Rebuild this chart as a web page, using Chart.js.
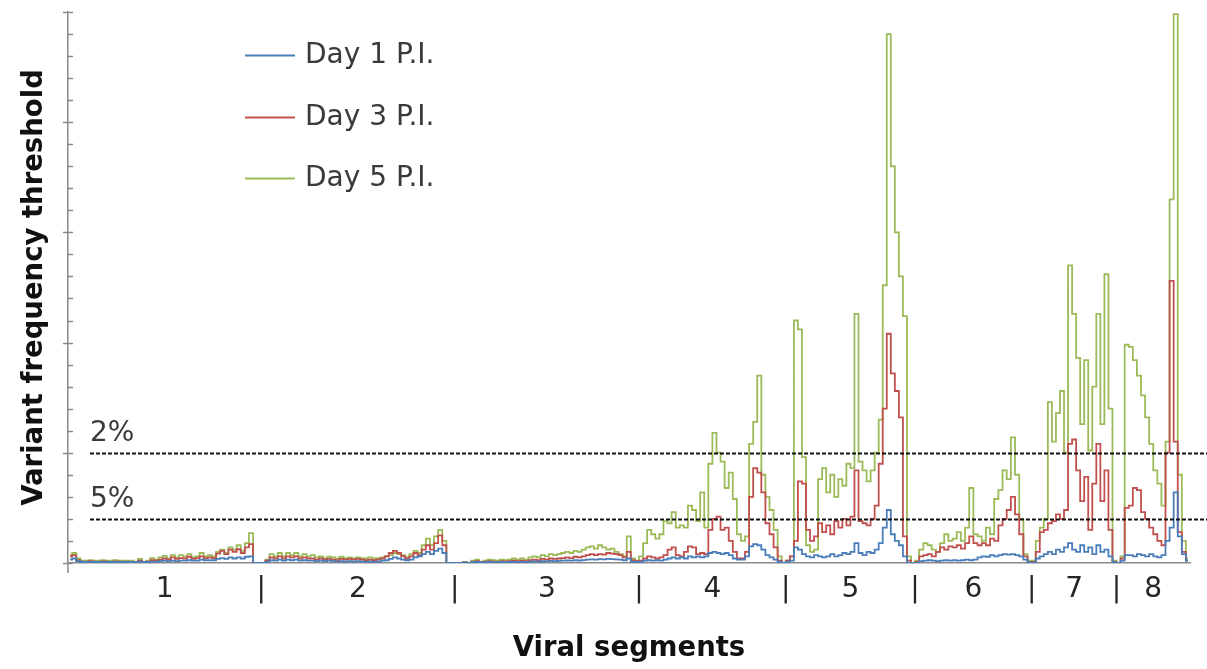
<!DOCTYPE html>
<html>
<head>
<meta charset="utf-8">
<title>Variant frequency threshold by viral segment</title>
<script src="https://cdn.jsdelivr.net/npm/chart.js@4.4.1/dist/chart.umd.min.js"></script>
<style>
  html, body { margin: 0; padding: 0; background: #ffffff; }
  #wrap { width: 1207px; height: 669px; position: relative; }
</style>
</head>
<body>
<div id="wrap"><canvas id="chart" width="1207" height="669"></canvas></div>
<script>
// Influenza segments 1-8 and their lengths (nt); the x axis runs along the concatenated genome.
const segmentLabels = ['1', '2', '3', '4', '5', '6', '7', '8'];
const segmentLengths = [2341, 2341, 2233, 1778, 1565, 1413, 1027, 890];

const seriesLabels = ['Day 1 P.I.', 'Day 3 P.I.', 'Day 5 P.I.'];
const seriesColors = ['#4a7ebb', '#c0504d', '#9bbb59'];

// Reference thresholds drawn as dashed lines
const thresholdLevels = [5, 2];
const thresholdLabels = ['2%', '5%'];

// Windowed values along each segment (one inner list per segment, evenly spaced windows)
const day1 = [
  [.15,.2,.08,.04,.04,.05,.04,.04,.05,.04,.04,.05,.04,.04,.04,.04,.03,.06,.03,.04,.06,.05,.08,.1,.08,.1,.08,.1,.1,.12,.1,.1,.15,.12,.12,.12,.18,.22,.18,.25,.2,.25,.2,.28,.3,0,0],
  [0,.05,.12,.1,.15,.1,.15,.12,.15,.1,.12,.1,.1,.08,.1,.08,.1,.08,.06,.08,.06,.08,.06,.08,.06,.05,.06,.05,.06,.1,.12,.18,.25,.2,.15,.12,.15,.25,.3,.4,.5,.4,.55,.65,.45,0,0],
  [0,0,.01,0,.03,.04,.02,.03,.04,.03,.03,.04,.03,.04,.05,.04,.05,.04,.06,.07,.06,.08,.07,.09,.08,.09,.1,.11,.1,.12,.11,.13,.15,.16,.15,.17,.16,.18,.17,.16,.15,.12,.2,.06,.04],
  [.05,.1,.12,.1,.12,.1,.15,.2,.25,.2,.25,.2,.3,.25,.3,.25,.3,.45,.5,.45,.4,.45,.35,.2,.15,.15,.3,.75,.85,.8,.6,.35,.25,.15,.05,0],
  [.05,.1,.7,.6,.4,.3,.25,.35,.3,.25,.3,.4,.3,.35,.45,.4,.5,.9,.45,.35,.5,.45,.6,.9,1.6,2.4,1.3,1.0,.8,.3,0,0],
  [0,.08,.1,.12,.1,.08,.1,.12,.1,.12,.1,.12,.15,.12,.15,.25,.3,.28,.35,.3,.35,.4,.38,.4,.35,.3,.15,.02],
  [0,.2,.3,.4,.5,.4,.6,.5,.7,.9,.6,.5,.8,.5,.7,.4,.8,.5,.6,.3,.02],
  [0,.1,.35,.35,.3,.4,.35,.3,.4,.3,.25,.35,1.0,1.6,3.2,1.2,.4,.1]
];

const day3 = [
  [.3,.35,.12,.06,.06,.08,.06,.05,.07,.06,.05,.07,.06,.05,.06,.05,.04,.1,.04,.06,.12,.1,.15,.2,.15,.25,.18,.22,.2,.28,.18,.22,.3,.22,.25,.22,.42,.55,.4,.6,.5,.62,.45,.7,.85,0,0],
  [0,.1,.25,.2,.3,.2,.3,.25,.3,.2,.25,.2,.2,.15,.2,.15,.18,.15,.12,.18,.15,.18,.15,.18,.15,.12,.15,.12,.15,.2,.3,.45,.55,.45,.3,.2,.3,.45,.35,.6,.8,.6,.9,1.25,.8,0,0],
  [0,0,.02,0,.05,.08,.03,.05,.08,.06,.05,.08,.06,.08,.1,.08,.1,.08,.12,.15,.12,.18,.15,.2,.18,.2,.22,.25,.22,.28,.25,.3,.35,.4,.35,.4,.38,.45,.42,.4,.35,.25,.5,.12,.08],
  [.1,.2,.3,.25,.2,.25,.35,.6,.7,.35,.3,.5,.75,.7,.4,.45,.4,1.5,2.0,2.1,1.5,1.6,1.0,.5,.2,.2,.5,3.0,4.3,4.1,3.2,1.8,1.3,.7,.1,0],
  [.1,.3,1.0,3.7,3.6,1.5,1.0,1.2,1.8,1.4,1.7,1.3,1.9,1.6,2.0,1.7,2.1,4.2,1.9,1.8,1.7,2.0,2.6,4.5,7.0,10.4,8.6,7.8,6.6,1.2,.1,0],
  [.05,.3,.35,.4,.3,.5,.7,.6,.75,.7,.8,.65,.9,1.2,.9,.8,.9,.8,1.1,1.0,1.7,2.0,2.4,3.0,2.2,1.3,.3,.05],
  [.05,.5,1.4,1.5,1.8,1.9,2.2,2.0,2.4,5.4,5.6,4.2,2.8,3.9,1.5,3.6,5.4,2.8,4.2,1.5,.05],
  [0,.2,2.5,2.6,3.4,3.3,2.3,2.0,1.6,1.3,1.0,.8,5.0,12.8,5.5,1.4,.5,.1]
];

const day5 = [
  [.35,.45,.2,.1,.1,.12,.1,.1,.12,.1,.1,.12,.1,.1,.1,.1,.05,.18,.05,.1,.22,.15,.25,.32,.2,.35,.25,.35,.3,.4,.25,.3,.45,.3,.35,.3,.5,.6,.45,.7,.6,.8,.55,.9,1.35,0,0],
  [0,.15,.4,.3,.45,.3,.45,.35,.45,.3,.4,.3,.35,.25,.3,.22,.28,.25,.2,.28,.22,.25,.2,.25,.22,.2,.25,.2,.22,.25,.3,.35,.45,.4,.35,.25,.4,.55,.45,.8,1.1,.8,1.2,1.5,1.0,0,0],
  [0,0,.05,0,.1,.15,.05,.1,.15,.12,.1,.15,.12,.15,.2,.15,.2,.15,.25,.3,.25,.35,.3,.4,.35,.4,.45,.5,.45,.55,.5,.6,.7,.75,.65,.8,.7,.6,.65,.5,.4,.3,1.2,.2,.1],
  [.3,.9,1.5,1.3,1.1,1.3,1.9,1.8,2.3,1.6,1.7,1.6,2.6,2.4,1.9,3.2,1.6,4.5,5.9,5.0,4.6,3.4,4.1,2.9,1.3,1.0,1.2,5.4,6.4,8.5,4.0,3.0,2.4,1.5,.3,0],
  [.1,.3,11.0,10.6,4.8,.8,.5,.6,3.8,4.3,3.2,4.0,3.0,3.8,3.5,4.5,4.3,11.3,4.6,4.2,3.7,4.2,5.0,6.5,12.6,24.0,18.0,15.0,13.0,11.2,.3,0],
  [.1,.6,.9,.8,.6,.5,.9,1.3,1.0,1.1,1.4,1.0,1.6,3.4,1.3,1.2,1.0,1.6,1.3,2.9,3.3,4.2,3.8,5.7,4.0,2.0,.4,.1],
  [.1,1.0,1.6,2.0,7.3,5.5,6.8,7.8,5.0,13.5,11.3,9.3,6.3,9.2,5.1,8.0,11.3,6.3,13.1,7.0,.1],
  [0,.3,9.9,9.8,9.2,8.5,7.6,6.6,5.4,4.2,3.6,2.6,5.5,16.5,24.9,4.0,1.0,.2]
];

// Segment start positions along the concatenated genome
const segmentStarts = [];
let genomeLength = 0;
for (const len of segmentLengths) { segmentStarts.push(genomeLength); genomeLength += len; }

// Place each window at its centre within its segment
function toPoints(segments) {
  const pts = [];
  segments.forEach((vals, s) => {
    const step = segmentLengths[s] / vals.length;
    vals.forEach((v, i) => pts.push({ x: segmentStarts[s] + (i + 0.5) * step, y: v }));
  });
  return pts;
}

// x-axis labels: segment numbers at segment centres, bars at segment boundaries
const tickLabelByValue = new Map();
segmentLengths.forEach((len, s) => {
  if (s > 0) tickLabelByValue.set(segmentStarts[s], '|');
  tickLabelByValue.set(segmentStarts[s] + len / 2, segmentLabels[s]);
});

const FONT = "'DejaVu Sans', Verdana, sans-serif";
const AXIS_GREY = '#8a8a8a';

// Minor/major tick marks on the value axis, plus the short stub below the origin
const valueAxisMarks = {
  id: 'valueAxisMarks',
  afterDatasetsDraw(chart) {
    const { ctx, chartArea } = chart;
    const y = chart.scales.y;
    const x0 = chartArea.left;
    ctx.save();
    ctx.strokeStyle = AXIS_GREY;
    ctx.lineWidth = 1.5;
    ctx.beginPath();
    y.ticks.forEach(t => {
      const py = Math.round(y.getPixelForValue(t.value)) + 0.5;
      const major = t.value % 5 === 0;
      ctx.moveTo(major ? x0 - 5 : x0, py);
      ctx.lineTo(x0 + 5, py);
    });
    ctx.moveTo(x0, chartArea.bottom);
    ctx.lineTo(x0, chartArea.bottom + 10);
    ctx.stroke();
    ctx.restore();
  }
};

// Dashed threshold lines with their labels
const thresholdLines = {
  id: 'thresholdLines',
  afterDatasetsDraw(chart) {
    const { ctx, chartArea } = chart;
    const y = chart.scales.y;
    const xStart = chartArea.left + 22;
    ctx.save();
    thresholdLevels.forEach((lvl, i) => {
      const py = Math.round(y.getPixelForValue(lvl)) + 0.5;
      ctx.strokeStyle = '#111111';
      ctx.lineWidth = 2;
      ctx.setLineDash([4, 2]);
      ctx.beginPath();
      ctx.moveTo(xStart, py);
      ctx.lineTo(chart.width, py);
      ctx.stroke();
      ctx.setLineDash([]);
      ctx.fillStyle = '#3a3a3a';
      ctx.font = `28px ${FONT}`;
      ctx.textAlign = 'left';
      ctx.textBaseline = 'alphabetic';
      ctx.fillText(thresholdLabels[i], xStart, py - 13);
    });
    ctx.restore();
  }
};

// Series key in the upper-left of the plot
const seriesKey = {
  id: 'seriesKey',
  afterDraw(chart) {
    const { ctx, chartArea } = chart;
    const lineX = chartArea.left + 177;
    const lineW = 50;
    const rowY = chartArea.top + 43;
    const rowGap = 61.5;
    ctx.save();
    chart.data.datasets.forEach((ds, i) => {
      const py = Math.round(rowY + i * rowGap) + 0.5;
      ctx.strokeStyle = ds.borderColor;
      ctx.lineWidth = 2;
      ctx.beginPath();
      ctx.moveTo(lineX, py);
      ctx.lineTo(lineX + lineW, py);
      ctx.stroke();
      ctx.fillStyle = '#3a3a3a';
      ctx.font = `28px ${FONT}`;
      ctx.textAlign = 'left';
      ctx.textBaseline = 'middle';
      ctx.fillText(ds.label, lineX + lineW + 10, py);
    });
    ctx.restore();
  }
};

const seriesData = [day1, day3, day5];

new Chart(document.getElementById('chart'), {
  type: 'line',
  data: {
    datasets: seriesData.map((segs, i) => ({
      label: seriesLabels[i],
      data: toPoints(segs),
      borderColor: seriesColors[i],
      borderWidth: 1.8,
      pointRadius: 0,
      stepped: 'middle',
      fill: false
    }))
  },
  options: {
    responsive: false,
    animation: false,
    devicePixelRatio: 1,
    layout: { padding: { left: 0, top: 12, right: 17, bottom: 0 } },
    plugins: {
      legend: { display: false },
      tooltip: { enabled: false }
    },
    scales: {
      x: {
        type: 'linear',
        min: 0,
        max: genomeLength,
        afterBuildTicks(scale) {
          scale.ticks = [...tickLabelByValue.keys()].sort((a, b) => a - b).map(v => ({ value: v }));
        },
        ticks: {
          autoSkip: false,
          maxRotation: 0,
          padding: 10,
          color: '#262626',
          font: { family: FONT, size: 28 },
          callback: (value) => tickLabelByValue.get(value) ?? ''
        },
        grid: { display: false, drawTicks: false },
        border: { display: true, color: AXIS_GREY, width: 1.5 },
        title: {
          display: true,
          text: 'Viral segments',
          color: '#111111',
          font: { family: FONT, size: 27.5, weight: 'bold' },
          padding: { top: 16, bottom: 3.5 }
        }
      },
      y: {
        min: 0,
        max: 25,
        ticks: { display: false, stepSize: 1 },
        grid: { display: false, drawTicks: false },
        border: { display: true, color: AXIS_GREY, width: 1.5 },
        title: {
          display: true,
          text: 'Variant frequency threshold',
          color: '#111111',
          font: { family: FONT, size: 27.5, weight: 'bold' },
          padding: { top: 18.5, bottom: 16.5 }
        }
      }
    }
  },
  plugins: [valueAxisMarks, thresholdLines, seriesKey]
});
</script>
</body>
</html>
